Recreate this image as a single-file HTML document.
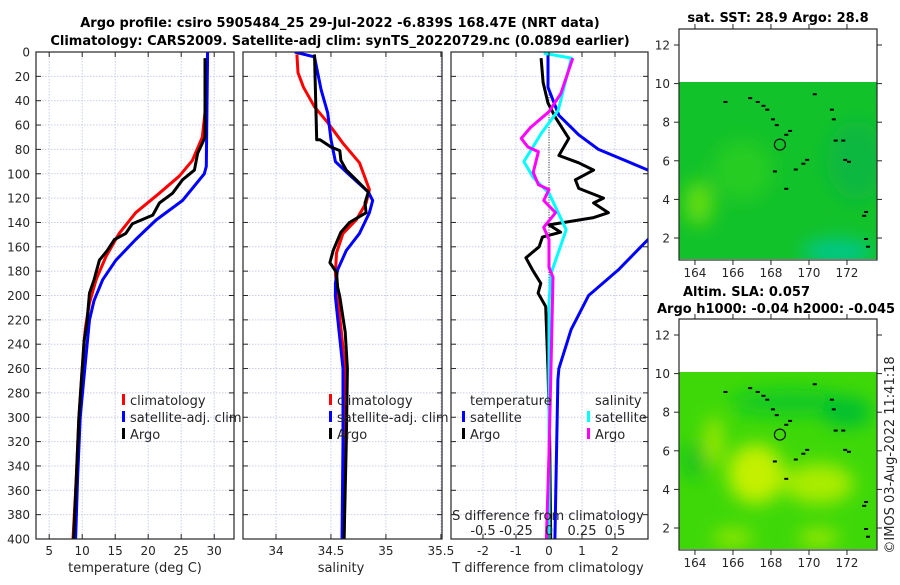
<!DOCTYPE html>
<html><head><meta charset="utf-8">
<style>
body{margin:0;background:#fff;}
svg text{font-family:"DejaVu Sans","Liberation Sans",sans-serif;fill:#262626;}
.tk{font-size:12px;}
.tb{font-size:13px;font-weight:bold;fill:#000;}
.lg{font-size:13px;}
</style></head>
<body>
<svg id="fig" width="900" height="580" viewBox="0 0 900 580" xmlns="http://www.w3.org/2000/svg">
<defs>
 <clipPath id="c1"><rect x="36" y="52" width="198" height="487"/></clipPath>
 <clipPath id="c2"><rect x="243" y="52" width="199" height="487"/></clipPath>
 <clipPath id="c3"><rect x="451" y="52" width="197" height="487"/></clipPath>
 <clipPath id="m1c"><rect x="679" y="82" width="198" height="177"/></clipPath>
 <clipPath id="m2c"><rect x="679" y="372" width="198" height="177"/></clipPath>
 <filter id="bl" x="-50%" y="-50%" width="200%" height="200%"><feGaussianBlur stdDeviation="9"/></filter>
</defs>
<text class="tb" x="340" y="27" text-anchor="middle">Argo profile: csiro 5905484_25 29-Jul-2022 -6.839S 168.47E (NRT data)</text>
<text class="tb" x="340" y="45" text-anchor="middle">Climatology: CARS2009. Satellite-adj clim: synTS_20220729.nc (0.089d earlier)</text>
<g id="plots"></g>
<text class="tb" x="778" y="22" text-anchor="middle">sat. SST: 28.9 Argo: 28.8</text>
<text class="tb" x="683" y="296">Altim. SLA: 0.057</text>
<text class="tb" x="657" y="313">Argo h1000: -0.04 h2000: -0.045</text>
<text class="tk" transform="translate(894,455) rotate(-90)" text-anchor="middle" style="font-size:13px">©IMOS 03-Aug-2022 11:41:18</text>
</svg>
<script>
// ---- data ----
const depthTicks=[0,20,40,60,80,100,120,140,160,180,200,220,240,260,280,300,320,340,360,380,400];
const tempTicks=[5,10,15,20,25,30];
const salTicks=[34,34.5,35,35.5];
const salTickLabels=["34","34.5","35","35.5"];
const tdiffTicks=[-2,-1,0,1,2];
const tdiffLabels=["-2","-1","0","1","2"];
const sdiffTicks=[-0.5,-0.25,0,0.25,0.5];
const sdiffLabels=["-0.5","-0.25","0","0.25","0.5"];
const mapLatTicks=[2,4,6,8,10,12];
const mapLonTicks=[164,166,168,170,172];

const tClimD=[0,45,70,89,102,116,132,149,168,187,206,226,237,260,300,350,400];
const tClimV=[29,28.7,28.2,26.7,24.7,21.7,18.1,15.6,13.6,12.1,11.1,10.5,10.3,10.0,9.5,9.1,8.6];
const tSatD=[0,94,100,122,138,154,171,187,204,220,237,260,300,350,400];
const tSatV=[29.0,28.8,28.5,25.2,21.2,18.1,15.1,13.1,11.8,11.1,10.8,10.4,9.7,9.3,9.0];
const tArgoD=[5,70,75,83,97,105,116,124,134,141,149,154,163,171,187,198,223,237,260,300,350,400];
const tArgoV=[28.6,28.6,28.2,27.5,27.0,25.2,23.7,21.7,20.7,17.6,16.6,14.9,13.8,12.6,11.8,11.1,10.7,10.3,10.0,9.5,9.1,8.7];

const sClimD=[2,17,29,45,58,75,91,113,124,138,149,165,182,201,260,320,400];
const sClimV=[34.19,34.2,34.25,34.35,34.47,34.61,34.76,34.85,34.82,34.73,34.61,34.55,34.54,34.56,34.63,34.63,34.62];
const sSatD=[0,4,31,50,72,90,101,115,122,132,149,163,179,190,201,260,320,400];
const sSatV=[34.17,34.35,34.41,34.47,34.50,34.54,34.67,34.84,34.88,34.85,34.76,34.64,34.56,34.54,34.54,34.61,34.61,34.60];
const sArgoD=[2,72,72,78,81,89,97,105,115,124,132,140,148,163,173,181,193,201,230,260,320,400];
const sArgoV=[34.35,34.37,34.40,34.50,34.58,34.59,34.64,34.73,34.84,34.81,34.82,34.67,34.59,34.52,34.49,34.55,34.56,34.58,34.63,34.65,34.64,34.62];

const dTArgoD=[5,25,42,54,71,85,91,97,105,112,120,124,132,136,142,148,152,160,169,179,190,198,209,261,320,400];
const dTArgoV=[-0.24,-0.18,-0.03,0.2,0.6,0.3,0.9,1.35,0.8,0.9,1.65,1.35,1.8,1.35,0,0.35,-0.2,-0.3,-0.7,-0.5,-0.25,-0.33,-0.1,-0.03,0.02,0.05];
const dTSatD=[2,29,52,68,80,89,97,110,130,150,154,179,200,228,260,269,400];
const dTSatV=[-0.03,-0.03,0.3,0.9,1.5,2.3,3.0,3.6,3.8,3.6,3.0,2.1,1.2,0.67,0.3,0.27,0.18];
const dSArgoD=[5,34,49,62,71,78,82,99,109,113,122,132,144,154,177,185,259,330,400];
const dSArgoV=[0.18,0.09,0,-0.14,-0.21,-0.16,-0.08,-0.12,-0.08,0,-0.04,0.05,-0.04,0,0,0.03,0.015,0,-0.02];
const dSSatD=[1,5,48,67,90,103,116,146,182,206,261,400];
const dSSatV=[-0.04,0.17,0.07,-0.06,-0.19,-0.12,0,0.13,0.015,0,0,0];

// ---- helpers ----
const NS="http://www.w3.org/2000/svg";
const root=document.getElementById('plots');
function mk(tag,attrs,parent){const e=document.createElementNS(NS,tag);for(const k in attrs)e.setAttribute(k,attrs[k]);(parent||root).appendChild(e);return e;}
const Y0=52,Y1=539;
const yD=d=>Y0+d*(Y1-Y0)/400;
function lin(d0,d1,r0,r1){return v=>r0+(v-d0)*(r1-r0)/(d1-d0);}
const P=[
 {x0:36,x1:234,sc:lin(3,33,36,234),clip:'c1'},
 {x0:243,x1:442,sc:lin(33.7,35.51,243,442),clip:'c2'},
 {x0:451,x1:648,sc:lin(-2.97,3.0,451,648),clip:'c3'}
];
const sdx=v=>P[2].sc(v*4);

function panel(p,idx){
 const g=mk('g',{});
 
 
 return g;
}
function grid(g,p,xt){
 xt.forEach(v=>{const x=p.sc(v);if(x<p.x0+1||x>p.x1-1)return;
  const l=mk('line',{x1:x,x2:x,y1:Y0,y2:Y1,stroke:'#c9cde8','stroke-dasharray':'1.5,1.5','stroke-width':1},g);
  
  });
 depthTicks.forEach(d=>{const y=yD(d);
  const l=mk('line',{x1:p.x0,x2:p.x1,y1:y,y2:y,stroke:'#c9cde8','stroke-dasharray':'1.5,1.5','stroke-width':1},g);
  
  
  mk('line',{x1:p.x0,x2:p.x0+5,y1:y,y2:y,stroke:'#262626'},g);
  mk('line',{x1:p.x1,x2:p.x1-5,y1:y,y2:y,stroke:'#262626'},g);});
}
function frame(g,p){const r=mk('rect',{x:p.x0,y:Y0,width:p.x1-p.x0,height:Y1-Y0,fill:'none',stroke:'#262626','stroke-width':1.2},g);
 
 }
function line(g,p,ds,vs,sx,color,name,w){
 let s='';ds.forEach((d,i)=>{s+=(i?'L':'M')+sx(vs[i]).toFixed(1)+','+yD(d).toFixed(1);});
 const e=mk('path',{d:s,fill:'none',stroke:color,'stroke-width':w||3,'stroke-linejoin':'round','clip-path':'url(#'+p.clip+')'},g);
 
 
}
function xticks(g,p,vals,labels,y,bottomTicks){
 vals.forEach((v,i)=>{const x=p.sc(v);
  if(bottomTicks&&x>p.x0&&x<p.x1){mk('line',{x1:x,x2:x,y1:Y1,y2:Y1-5,stroke:'#262626'},g);mk('line',{x1:x,x2:x,y1:Y0,y2:Y0+5,stroke:'#262626'},g);}
  const t=mk('text',{x:x,y:y,'text-anchor':'middle',class:'tk'},g);t.textContent=labels?labels[i]:String(v);
  
  });
}
function legend(g,x,y,items){
 items.forEach((it,i)=>{const yy=y+i*17;
  if(it.c){const b=mk('rect',{x:x,y:yy-11,width:3,height:11,fill:it.c},g);
   
   }
  const t=mk('text',{x:x+8,y:yy,class:'lg'},g);t.textContent=it.t;
  
  });
}
// ---- panel 1 ----
let g=panel(P[0],0);
grid(g,P[0],tempTicks);
line(g,P[0],tClimD,tClimV,P[0].sc,'#ff0000','climatology-temp-line');
line(g,P[0],tSatD,tSatV,P[0].sc,'#0000ff','satellite-temp-line');
line(g,P[0],tArgoD,tArgoV,P[0].sc,'#000000','argo-temp-line');
frame(g,P[0]);
depthTicks.forEach(d=>{const t=mk('text',{x:30,y:yD(d)+4.5,'text-anchor':'end',class:'tk'},g);t.textContent=String(d);
 
 });
xticks(g,P[0],tempTicks,null,555,true);
let t=mk('text',{x:135,y:572,'text-anchor':'middle',class:'tk',style:'font-size:13px'},g);t.textContent='temperature (deg C)';


legend(g,122,405,[{c:'#ff0000',t:'climatology'},{c:'#0000ff',t:'satellite-adj. clim'},{c:'#000',t:'Argo'}]);
// ---- panel 2 ----
g=panel(P[1],1);
grid(g,P[1],salTicks);
line(g,P[1],sClimD,sClimV,P[1].sc,'#ff0000','climatology-salinity-line');
line(g,P[1],sSatD,sSatV,P[1].sc,'#0000ff','satellite-salinity-line');
line(g,P[1],sArgoD,sArgoV,P[1].sc,'#000000','argo-salinity-line');
frame(g,P[1]);
xticks(g,P[1],salTicks,salTickLabels,555,true);
t=mk('text',{x:341,y:572,'text-anchor':'middle',class:'tk',style:'font-size:13px'},g);t.textContent='salinity';


legend(g,329,405,[{c:'#ff0000',t:'climatology'},{c:'#0000ff',t:'satellite-adj. clim'},{c:'#000',t:'Argo'}]);
// ---- panel 3 ----
g=panel(P[2],2);
grid(g,P[2],[-2,-1,0,1,2]);
const zl=mk('line',{x1:P[2].sc(0),x2:P[2].sc(0),y1:Y0,y2:Y1,stroke:'#333','stroke-dasharray':'1,1.5','stroke-width':1},g);


line(g,P[2],dTSatD,dTSatV,P[2].sc,'#0000ff','satellite-temp-diff-line');
line(g,P[2],dTArgoD,dTArgoV,P[2].sc,'#000000','argo-temp-diff-line');
line(g,P[2],dSSatD,dSSatV,sdx,'#00ffff','satellite-salinity-diff-line');
line(g,P[2],dSArgoD,dSArgoV,sdx,'#ff00ff','argo-salinity-diff-line');
frame(g,P[2]);
xticks(g,P[2],tdiffTicks,tdiffLabels,555,true);
sdiffTicks.forEach((v,i)=>{const tt=mk('text',{x:sdx(v),y:535,'text-anchor':'middle',class:'tk',style:'font-size:13px'},g);tt.textContent=sdiffLabels[i];
 
 });
t=mk('text',{x:548,y:520,'text-anchor':'middle',class:'tk',style:'font-size:13px'},g);t.textContent='S difference from climatology';


t=mk('text',{x:548,y:572,'text-anchor':'middle',class:'tk',style:'font-size:13px'},g);t.textContent='T difference from climatology';


legend(g,462,405,[{t:'temperature'},{c:'#0000ff',t:'satellite'},{c:'#000',t:'Argo'}]);
legend(g,587,405,[{t:'salinity'},{c:'#00ffff',t:'satellite'},{c:'#ff00ff',t:'Argo'}]);

// ---- maps ----
const coastLon=[165.5,166.8,167.2,167.5,167.7,168.0,168.2,168.7,168.9,169.2,169.6,169.8,170.2,171.1,171.2,171.3,171.7,171.8,172.0,172.8,172.9,172.9,173.0,168.1,168.7];
const coastLat=[9.1,9.3,9.1,8.9,8.7,8.2,7.9,7.4,7.6,5.6,5.9,6.1,9.5,8.7,8.2,7.1,7.1,6.1,6.0,3.2,3.4,2.0,1.6,5.5,4.6];
const argoLon=168.47, argoLat=6.84;
function map(top,clip,name,base,blobs){
 const mg=mk('g',{});
 
 
 const lx=lin(163.16,173.58,679,877), ly=lin(12,2,top+16,top+209);
 mk('rect',{x:679,y:top,width:198,height:231,fill:'#fff'},mg);
 const cg=mk('g',{'clip-path':'url(#'+clip+')'},mg);
 mk('rect',{x:679,y:ly(10.1),width:198,height:ly(0.9)-ly(10.1),fill:base},cg);
 const bg=mk('g',{filter:'url(#bl)'},cg);
 blobs.forEach(b=>mk('ellipse',{cx:lx(b[0]),cy:ly(b[1]),rx:b[2],ry:b[3],fill:b[4]},bg));
 coastLon.forEach((lo,i)=>{const r=mk('rect',{x:lx(lo),y:ly(coastLat[i]),width:4,height:2,fill:'#000'},cg);
  
  });
 const c=mk('circle',{cx:lx(argoLon),cy:ly(argoLat),r:5.5,fill:'none',stroke:'#111','stroke-width':1.2},mg);
 
 
 mk('rect',{x:679,y:top,width:198,height:231,fill:'none',stroke:'#262626','stroke-width':1.2},mg);
 mapLatTicks.forEach(v=>{const y=ly(v);mk('line',{x1:679,x2:674,y1:y,y2:y,stroke:'#262626'},mg);mk('line',{x1:877,x2:882,y1:y,y2:y,stroke:'#262626'},mg);
  const tt=mk('text',{x:670,y:y+4.5,'text-anchor':'end',class:'tk'},mg);tt.textContent=String(v);
  
  });
 mapLonTicks.forEach(v=>{const x=lx(v);mk('line',{x1:x,x2:x,y1:top+231,y2:top+236,stroke:'#262626'},mg);mk('line',{x1:x,x2:x,y1:top,y2:top-5,stroke:'#262626'},mg);
  const tt=mk('text',{x:x,y:top+248,'text-anchor':'middle',class:'tk'},mg);tt.textContent=String(v);
  
  });
}
map(29,'m1c','sst-map','#12c22a',[[164.2,3.8,14,22,'#66dd10'],[166.5,5.5,30,30,'#28cc20'],[171.5,1.3,35,12,'#00c890'],[172.5,6,30,40,'#08b840']]);
map(319,'m2c','sla-map','#3ed808',[[167.2,4.8,28,30,'#c4f000'],[170.5,4.3,35,20,'#aaec00'],[165,6.5,8,25,'#aaea00'],[169,8.5,60,12,'#0cc828'],[164,5.5,10,18,'#10c020'],[172,8,25,15,'#00c030'],[166,1.5,20,8,'#a0e800'],[170.5,1.5,20,8,'#a8ea00']]);
</script>
</body></html>
